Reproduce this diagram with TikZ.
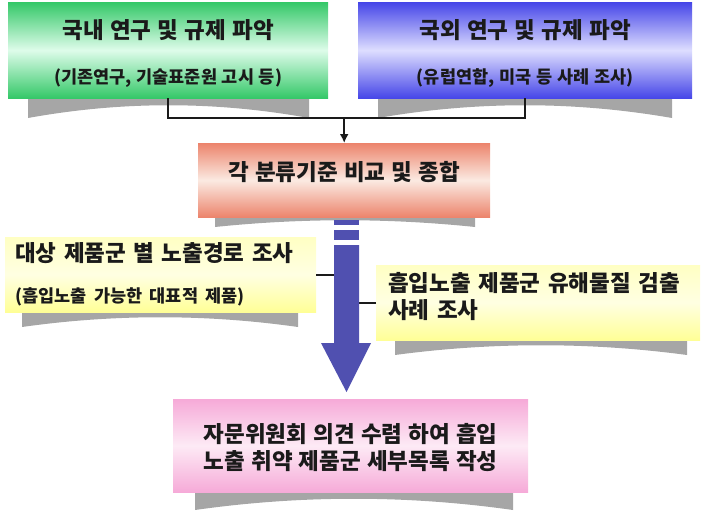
\documentclass[tikz,border=0pt]{standalone}
\usepackage{fontspec}
\newfontfamily\kr[WordSpace=1.2]{Noto Sans CJK KR}
\usepackage{xcolor}
\usepackage{tikz}
\usetikzlibrary{positioning,arrows.meta}

\definecolor{grnDark}{RGB}{52,200,104}
\definecolor{grnLight}{RGB}{222,252,234}
\definecolor{bluDark}{RGB}{70,70,232}
\definecolor{bluLight}{RGB}{222,222,255}
\definecolor{salDark}{RGB}{236,132,108}
\definecolor{salLight}{RGB}{251,234,226}
\definecolor{ylwDark}{RGB}{255,255,150}
\definecolor{ylwLight}{RGB}{255,255,226}
\definecolor{pnkDark}{RGB}{246,170,216}
\definecolor{pnkLight}{RGB}{253,234,245}
\definecolor{curlGray}{RGB}{166,166,166}
\definecolor{flowBlue}{RGB}{80,80,176}
\definecolor{ink}{RGB}{26,26,26}

\begin{document}
\begin{tikzpicture}[
    x=1pt, y=-1pt,
    >={Latex[length=9pt,width=9pt]},
    panel/.style={anchor=north west, inner sep=0pt, align=center, text=ink,
        shading angle=45,
        font=\kr\bfseries\fontsize{22.5}{27}\selectfont},
    green/.style={panel, top color=grnDark, bottom color=grnDark, middle color=grnLight},
    blue/.style={panel, top color=bluDark, bottom color=bluDark, middle color=bluLight},
    salmon/.style={panel, top color=salDark, bottom color=salDark, middle color=salLight},
    yellow/.style={panel, top color=ylwLight!60!ylwDark, bottom color=ylwDark, middle color=ylwLight},
    pink/.style={panel, top color=pnkDark, bottom color=pnkDark, middle color=pnkLight},
    curl/.style={fill=curlGray},
    link/.style={draw=ink, line width=1.8pt},
    bigflow/.style={fill=flowBlue}
]

\newcommand{\subfont}{\fontsize{17.5}{18}\selectfont}

% shadows under the panels
\fill[curl] (28,98) -- (309,98) -- (309,118) .. controls +(-94,-17) and +(94,-17) .. (28,118) -- cycle;
\fill[curl] (378,98) -- (672,98) -- (672,118) .. controls +(-98,-17) and +(98,-17) .. (378,118) -- cycle;
\fill[curl] (215,217) -- (475,217) -- (475,227) .. controls +(-87,-9) and +(87,-9) .. (215,227) -- cycle;
\fill[curl] (22,312) -- (298,312) -- (298,327) .. controls +(-92,-13) and +(92,-13) .. (22,327) -- cycle;
\fill[curl] (395,340) -- (687,340) -- (687,355) .. controls +(-97,-13) and +(97,-13) .. (395,355) -- cycle;
\fill[curl] (195,492) -- (513,492) -- (513,510) .. controls +(-106,-15) and +(106,-15) .. (195,510) -- cycle;

% panels
\node[green, minimum width=320pt, minimum height=96pt, text height=70pt] (dom) at (8,2)
    {국내 연구 및 규제 파악\\[18pt]{\subfont (기존연구, 기술표준원 고시 등)}};
\node[blue, minimum width=334pt, minimum height=96pt, text height=70pt] (frn) at (358,2)
    {국외 연구 및 규제 파악\\[18pt]{\subfont (유럽연합, 미국 등 사례 조사)}};
\node[salmon, minimum width=292pt, minimum height=74pt, text height=20pt, text depth=20pt] (cmp) at (198,143)
    {각 분류기준 비교 및 종합};
\node[yellow, minimum width=311pt, minimum height=75pt, inner xsep=10pt,
      text width=291pt, align=left] (obs) at (5,237)
    {대상 제품군 별 노출경로 조사\\[14pt]{\subfont (흡입노출 가능한 대표적 제품)}};
\node[yellow, minimum width=324pt, minimum height=75pt, inner xsep=12pt,
      text width=300pt, align=left, text height=10pt, text depth=33pt] (det) at (376,265)
    {흡입노출 제품군 유해물질 검출\\사례 조사};
\node[pink, minimum width=355pt, minimum height=93pt, align=left, text height=50pt] (sum) at (173,399)
    {자문위원회 의견 수렴 하여 흡입\\노출 취약 제품군 세부목록 작성};

% connectors
\coordinate (join) at (cmp.north |- 0,118);
\coordinate (shaft) at (346.5,300);
\draw[link] (dom.south) |- (join) -| (frn.south);
\draw[link, ->] (join) -- (cmp.north);
\draw[link] (obs.east) -- (obs.east -| shaft);
\draw[link] (det.west) -- (det.west -| shaft);

% striped block arrow
\fill[bigflow] (334,220) rectangle (359,225);
\fill[bigflow] (334,230) rectangle (359,240);
\fill[bigflow] (334,245) -- (359,245) -- (359,343) -- (371,343) -- (346.5,392)
    -- (321,343) -- (334,343) -- cycle;

\path[use as bounding box] (0,0) rectangle (703,511);

\end{tikzpicture}
\end{document}
